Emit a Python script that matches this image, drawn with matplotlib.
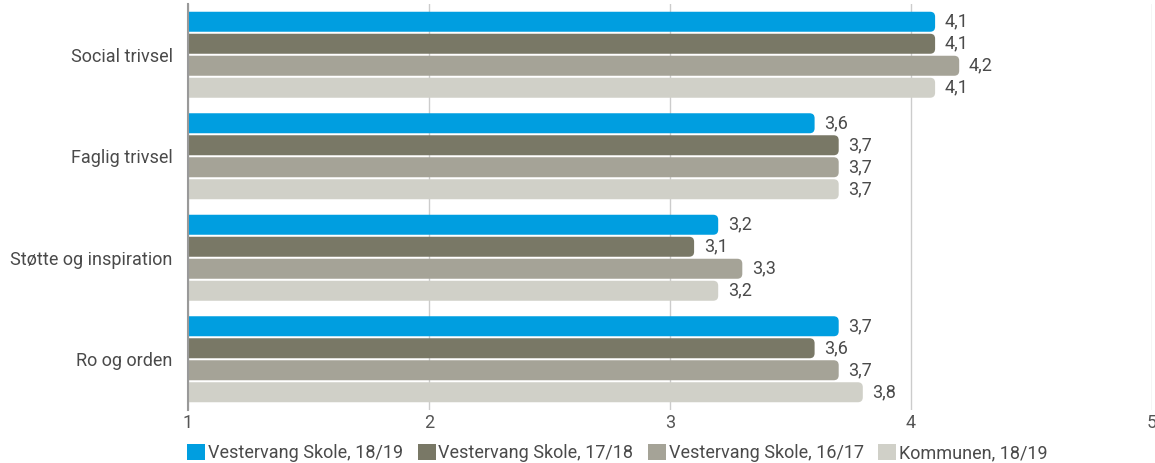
import numpy as np
import matplotlib.pyplot as plt
from matplotlib.patches import FancyBboxPatch, Patch

plt.rcParams['font.family'] = ['Roboto', 'DejaVu Sans']

## Data
categories = ['Social trivsel', 'Faglig trivsel', 'Støtte og inspiration', 'Ro og orden']
series_names = ['Vestervang Skole, 18/19', 'Vestervang Skole, 17/18',
                'Vestervang Skole, 16/17', 'Kommunen, 18/19']
vest_1819 = [4.1, 3.6, 3.2, 3.7]
vest_1718 = [4.1, 3.7, 3.1, 3.6]
vest_1617 = [4.2, 3.7, 3.3, 3.7]
kommune_1819 = [4.1, 3.7, 3.2, 3.8]
xticks = [1, 2, 3, 4, 5]

colors = ['#009ee0', '#797866', '#a5a397', '#d0d0c8']
series = [vest_1819, vest_1718, vest_1617, kommune_1819]

fig = plt.figure(figsize=(11.55, 4.63), dpi=100)
ax = fig.add_axes([188 / 1155, 1 - 410 / 463, 964 / 1155, 406 / 463])

x0, x1 = 1, 5
ax.set_xlim(x0, x1)
ax.set_ylim(len(categories) - 0.5, -0.5)

# px per data unit, used to keep the corner rounding circular
px_x = 964 / (x1 - x0)
px_y = 406 / len(categories)
r = 5 / px_x
bar_h = 20 / px_y
offsets = np.array([-33, -11, 11, 33]) / px_y

for s, (vals, col) in enumerate(zip(series, colors)):
    for i, v in enumerate(vals):
        y = i + offsets[s] - bar_h / 2
        start = x0 - 0.05   # left rounding is clipped by the axes
        p = FancyBboxPatch((start, y), v - start, bar_h,
                           boxstyle='round,pad=0,rounding_size=%f' % r,
                           mutation_aspect=px_x / px_y,
                           fc=col, ec='none', zorder=3)
        ax.add_patch(p)
        ax.annotate(('%.1f' % v).replace('.', ','), (v, i + offsets[s]),
                    xytext=(7, 0), textcoords='offset points',
                    va='center', ha='left', fontsize=13, color='#4a4a4a')

ax.set_yticks(range(len(categories)))
ax.set_yticklabels(categories, fontsize=13, color='#4a4a4a')
ax.set_xticks(xticks)
ax.set_xticklabels([str(t) for t in xticks], fontsize=13, color='#555555')
ax.tick_params(axis='both', length=0)
ax.tick_params(axis='y', pad=11)
ax.tick_params(axis='x', pad=3)

ax.grid(axis='x', color='#cccccc', linewidth=1, zorder=0)
for side in ['top', 'right', 'bottom']:
    ax.spines[side].set_visible(False)
ax.spines['left'].set_color('#999999')
ax.spines['left'].set_linewidth(1.5)
ax.spines['left'].set_zorder(4)

handles = [Patch(fc=c, ec='none') for c in colors]
fig.legend(handles, series_names, loc='lower left', bbox_to_anchor=(171 / 1155, -0.033),
           ncol=4, frameon=False, fontsize=13, handlelength=1.0, handleheight=1.0,
           handletextpad=0.15, columnspacing=0.8, labelcolor='#4a4a4a')

fig.savefig('out.png', dpi=100)
